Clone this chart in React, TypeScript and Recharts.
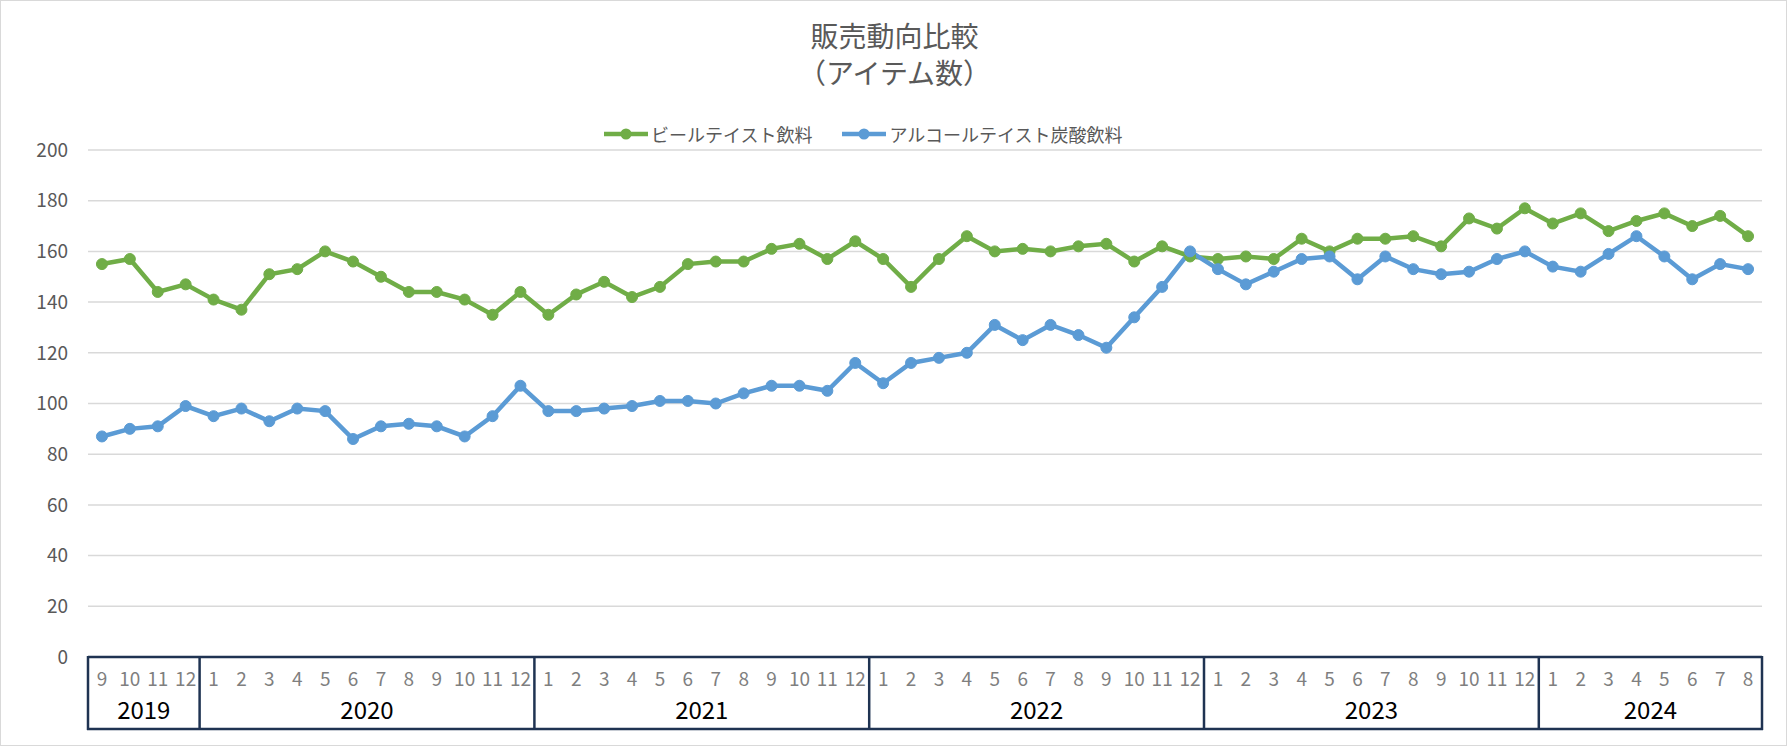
import React from 'react';
import { LineChart, Line, XAxis, YAxis, CartesianGrid, Legend } from 'recharts';

// ---- data ----
const years = ['2019', '2020', '2021', '2022', '2023', '2024'];
const monthsByYear = [
  [9, 10, 11, 12],
  [1, 2, 3, 4, 5, 6, 7, 8, 9, 10, 11, 12],
  [1, 2, 3, 4, 5, 6, 7, 8, 9, 10, 11, 12],
  [1, 2, 3, 4, 5, 6, 7, 8, 9, 10, 11, 12],
  [1, 2, 3, 4, 5, 6, 7, 8, 9, 10, 11, 12],
  [1, 2, 3, 4, 5, 6, 7, 8],
];
const beerTaste = [
  155, 157, 144, 147,
  141, 137, 151, 153, 160, 156, 150, 144, 144, 141, 135, 144,
  135, 143, 148, 142, 146, 155, 156, 156, 161, 163, 157, 164,
  157, 146, 157, 166, 160, 161, 160, 162, 163, 156, 162, 158,
  157, 158, 157, 165, 160, 165, 165, 166, 162, 173, 169, 177,
  171, 175, 168, 172, 175, 170, 174, 166,
];
const alcoholTaste = [
  87, 90, 91, 99,
  95, 98, 93, 98, 97, 86, 91, 92, 91, 87, 95, 107,
  97, 97, 98, 99, 101, 101, 100, 104, 107, 107, 105, 116,
  108, 116, 118, 120, 131, 125, 131, 127, 122, 134, 146, 160,
  153, 147, 152, 157, 158, 149, 158, 153, 151, 152, 157, 160,
  154, 152, 159, 166, 158, 149, 155, 153,
];
const yTicks = [0, 20, 40, 60, 80, 100, 120, 140, 160, 180, 200];
const seriesNames = ['ビールテイスト飲料', 'アルコールテイスト炭酸飲料'];
const titleLines = ['販売動向比較', '（アイテム数）'];

// ---- layout ----
const W = 1787;
const H = 746;
const PLOT_LEFT = 88;
const PLOT_RIGHT = 1762;
const PLOT_TOP = 150;
const PLOT_BOTTOM = 657;
const GREEN = '#70AD47';
const BLUE = '#5B9BD5';
const NAVY = '#1F3352';
const FONT = '"Noto Sans CJK JP", "Noto Sans", sans-serif';

type Cat = { key: string; month: number; year: string; first: boolean; groupLen: number };
const cats: Cat[] = [];
years.forEach((yr, gi) => {
  monthsByYear[gi].forEach((m, mi) => {
    cats.push({ key: `${yr}-${m}`, month: m, year: yr, first: mi === 0, groupLen: monthsByYear[gi].length });
  });
});
const data = cats.map((c, i) => ({ key: c.key, beer: beerTaste[i], alcohol: alcoholTaste[i] }));
const BW = (PLOT_RIGHT - PLOT_LEFT) / cats.length;

const MonthTick = (props: any) => {
  const { x, y, payload } = props;
  const i = payload.index;
  const c = cats[i];
  const left = x - BW / 2;
  const right = x + BW / 2;
  const bottom = y + 72;
  return (
    <g>
      <text x={x} y={y + 20} textAnchor="middle" dominantBaseline="central" fontSize={19} fill="#7F7F7F" fontFamily={FONT}>
        {c.month}
      </text>
      {i === 0 && (
        <line x1={left - 1} x2={left + cats.length * BW + 1} y1={bottom} y2={bottom} stroke={NAVY} strokeWidth={2.5} />
      )}
      {c.first && (
        <>
          <line x1={left} x2={left} y1={y - 1} y2={bottom + 1} stroke={NAVY} strokeWidth={2.5} />
          <text x={left + (c.groupLen * BW) / 2} y={y + 51} textAnchor="middle" dominantBaseline="central" fontSize={24} fill="#000" fontFamily={FONT}>
            {c.year}
          </text>
        </>
      )}
      {i === cats.length - 1 && (
        <line x1={right} x2={right} y1={y - 1} y2={bottom + 1} stroke={NAVY} strokeWidth={2.5} />
      )}
    </g>
  );
};

const LegendContent = () => {
  const items = [
    { name: seriesNames[0], color: GREEN },
    { name: seriesNames[1], color: BLUE },
  ];
  return (
    <div style={{ display: 'flex', alignItems: 'center', fontFamily: FONT, fontSize: 18, color: '#595959', whiteSpace: 'nowrap' }}>
      {items.map((it, k) => (
        <div key={k} style={{ display: 'flex', alignItems: 'center', marginRight: k === 0 ? 30 : 0 }}>
          <svg width={44} height={14} style={{ marginRight: 3 }}>
            <line x1={0} x2={44} y1={7} y2={7} stroke={it.color} strokeWidth={4.5} />
            <circle cx={22} cy={7} r={5.5} fill={it.color} />
          </svg>
          <span style={{ lineHeight: '20px' }}>{it.name}</span>
        </div>
      ))}
    </div>
  );
};

const titleStyle: React.CSSProperties = {
  position: 'absolute',
  left: 0,
  width: W,
  textAlign: 'center',
  fontFamily: FONT,
  fontSize: 28,
  color: '#595959',
  lineHeight: '28px',
  height: 28,
};

export default function App() {
  return (
    <div style={{ position: 'absolute', left: 0, top: 0, width: W, height: H, background: '#fff', border: '1px solid #D9D9D9', boxSizing: 'border-box' }}>
      <div style={{ ...titleStyle, top: 20 }}>{titleLines[0]}</div>
      <div style={{ ...titleStyle, top: 57 }}>{titleLines[1]}</div>
      <div style={{ position: 'absolute', left: -1, top: -1 }}>
        <LineChart width={W} height={H} data={data} margin={{ top: PLOT_TOP, right: W - PLOT_RIGHT, bottom: 0, left: 0 }}>
          <CartesianGrid vertical={false} stroke="#D9D9D9" strokeWidth={1.5} />
          <XAxis
            dataKey="key"
            scale="band"
            interval={0}
            tickLine={false}
            tickSize={0}
            tickMargin={0}
            height={H - PLOT_BOTTOM}
            axisLine={{ stroke: NAVY, strokeWidth: 2.5 }}
            tick={<MonthTick />}
          />
          <YAxis
            width={PLOT_LEFT}
            domain={[0, 200]}
            ticks={yTicks}
            axisLine={false}
            tickLine={false}
            tickSize={0}
            tickMargin={20}
            tick={{ fontSize: 19, fill: '#595959', fontFamily: FONT }}
          />
          <Legend
            verticalAlign="middle"
            layout="horizontal"
            content={<LegendContent />}
            wrapperStyle={{ top: 124, left: 604, width: 'auto' }}
          />
          <Line
            type="linear"
            dataKey="beer"
            name={seriesNames[0]}
            stroke={GREEN}
            strokeWidth={4.5}
            dot={{ r: 5.5, fill: GREEN, stroke: GREEN, strokeWidth: 1 }}
            activeDot={false}
            isAnimationActive={false}
          />
          <Line
            type="linear"
            dataKey="alcohol"
            name={seriesNames[1]}
            stroke={BLUE}
            strokeWidth={4.5}
            dot={{ r: 5.5, fill: BLUE, stroke: BLUE, strokeWidth: 1 }}
            activeDot={false}
            isAnimationActive={false}
          />
        </LineChart>
      </div>
    </div>
  );
}
